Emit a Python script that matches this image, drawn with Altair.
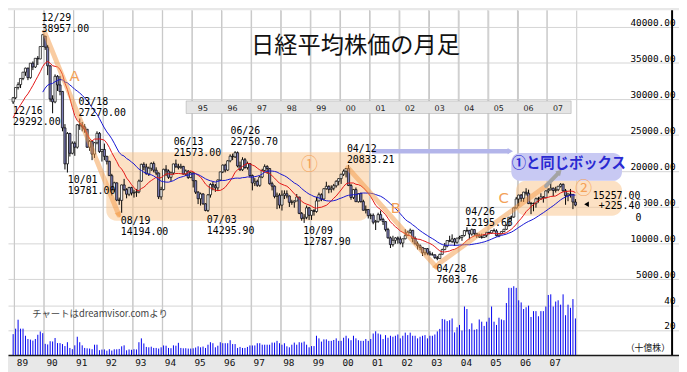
import json
import altair as alt
import pandas as pd

# ---------------------------------------------------------------- data
# Monthly candles of the Nikkei 225, Dec 1988 (t = -1) .. Dec 2007 (t = 227);
# t = months since Jan 1989.
OPEN = [
    29579,
    30159, 31581, 31985, 32838, 33713, 34266, 32948, 34954, 34431, 35636, 35549, 37269,  # 1989
    38712, 37189, 34592, 29980, 29585, 33131, 31940, 31036, 25978, 20984, 25194, 22455,  # 1990
    23849, 23293, 26409, 26292, 26111, 25790, 23291, 24121, 22336, 23917, 25222, 22688,  # 1991
    22984, 22024, 21339, 19346, 17391, 18348, 15952, 15910, 18061, 17400, 16768, 17684,  # 1992
    16925, 17024, 17098, 18591, 20919, 20552, 19590, 20380, 21027, 20106, 19703, 16408,  # 1993
    17417, 20229, 19998, 19112, 19725, 20974, 20644, 20462, 20629, 19564, 19990, 19077,  # 1994
    19723, 18650, 17054, 16140, 16807, 15437, 14517, 16678, 18117, 17913, 17655, 18745,  # 1995
    19868, 20813, 20125, 21407, 22041, 21956, 22531, 20693, 20167, 21556, 20467, 21020,  # 1996
    19361, 18330, 18557, 18003, 19151, 20069, 20605, 20331, 18229, 17888, 16459, 16636,  # 1997
    15259, 16628, 16832, 16527, 15641, 15671, 15831, 16379, 14108, 13406, 13565, 14884,  # 1998
    13842, 14499, 14368, 15837, 16702, 16112, 17530, 17862, 17437, 17605, 17943, 18558,  # 1999
    18934, 19540, 19960, 20337, 17974, 16332, 17412, 15728, 16861, 15747, 14540, 14649,  # 2000
    13786, 13844, 12884, 12999, 13934, 13262, 12969, 11861, 10714, 9775, 10366, 10697,   # 2001
    10543, 9998, 10588, 11025, 11493, 11764, 10622, 9878, 9619, 9383, 8640, 9216,        # 2002
    8579, 8340, 8363, 7973, 7831, 8425, 9083, 9563, 10344, 10219, 10560, 10101,          # 2003
    10677, 10784, 11042, 11715, 11762, 11236, 11859, 11326, 11082, 10824, 10771, 11069,  # 2004
    11489, 11388, 11740, 11669, 11009, 11277, 11584, 11900, 12414, 13574, 13607, 14872,  # 2005
    16111, 16650, 16205, 17060, 16906, 15467, 15505, 15457, 16141, 16128, 16399, 16274,  # 2006
    17226, 17383, 17604, 17288, 17400, 17876, 18138, 17249, 16569, 16786, 16737, 15680,  # 2007
]
HIGH = [
    30264,
    31600, 32310, 32838, 33713, 34338, 34340, 34954, 35200, 35636, 35950, 37269, 38957,
    38750, 37500, 34700, 30500, 33400, 33300, 33200, 31100, 26500, 25400, 25300, 24100,
    24100, 26500, 27270, 26800, 26500, 25800, 24300, 24200, 24000, 25500, 25400, 23000,
    23800, 22100, 21400, 19600, 18500, 18400, 16300, 18100, 18900, 17600, 17800, 17800,
    17400, 17500, 18800, 21000, 21200, 21000, 20600, 21200, 21300, 20500, 19800, 17800,
    20300, 20800, 20200, 19900, 21000, 21573, 21000, 21000, 20700, 20200, 20100, 19900,
    19800, 18700, 17200, 17000, 16900, 15500, 16800, 18300, 18500, 18200, 18800, 19900,
    20900, 21000, 21500, 22300, 22400, 22751, 22700, 21300, 21900, 21800, 21300, 21100,
    19500, 19000, 18800, 19300, 20300, 20910, 20800, 20400, 18500, 18000, 17000, 16900,
    17300, 17300, 17300, 16600, 16000, 15900, 16800, 16400, 14300, 14000, 15200, 15000,
    14600, 14700, 16400, 17000, 16900, 17600, 18500, 18000, 18000, 18200, 18700, 19000,
    19600, 20200, 20400, 20833, 18200, 17500, 17700, 16900, 17000, 16000, 15200, 14700,
    14100, 14100, 13200, 14200, 14500, 13500, 13000, 12100, 10900, 11000, 10800, 10900,
    10900, 10600, 11900, 11700, 12000, 11800, 10900, 10200, 9800, 9400, 9300, 9300,
    8900, 8700, 8400, 8200, 8500, 9200, 10000, 10400, 11000, 11200, 10700, 10700,
    11000, 11100, 11800, 12196, 11800, 12000, 11900, 11400, 11300, 11300, 11200, 11500,
    11500, 11800, 12000, 11900, 11300, 11600, 11950, 12600, 13600, 13800, 14900, 16400,
    16700, 16800, 17100, 17600, 17400, 15700, 15600, 16300, 16400, 16900, 16500, 17300,
    17600, 18300, 17700, 17800, 17900, 18300, 18262, 17500, 16900, 17500, 16800, 16100,
]
LOW = [
    29292,
    29960, 31300, 31500, 32600, 33200, 32600, 32800, 34000, 34300, 34700, 35500, 37200,
    36800, 33300, 29600, 28002, 29400, 31100, 30500, 25500, 20200, 19781, 22000, 22300,
    22100, 23100, 25700, 25500, 25300, 23200, 22800, 21500, 21800, 23700, 22500, 21300,
    21500, 20900, 19300, 16600, 17100, 15800, 15300, 14194, 17200, 16200, 16500, 16600,
    16300, 16400, 16900, 18500, 20100, 19500, 19300, 20000, 19800, 19400, 16100, 16000,
    17300, 19300, 18900, 18600, 19500, 20400, 20200, 20300, 19500, 19300, 18900, 19000,
    17700, 16800, 15400, 15200, 15300, 14400, 14296, 16300, 17300, 17100, 17200, 18600,
    19700, 19800, 20000, 21200, 21500, 21800, 20500, 20000, 20000, 20300, 20200, 19100,
    17300, 17900, 17800, 17800, 19000, 19900, 19600, 18100, 17300, 16200, 14700, 14800,
    14500, 16100, 16200, 15000, 15300, 14900, 15800, 14000, 13100, 12788, 13300, 13200,
    13200, 13800, 14200, 15800, 15800, 15900, 17400, 16900, 17000, 17300, 17700, 18000,
    18200, 19300, 19100, 17900, 16000, 16100, 15700, 15600, 15600, 14500, 14100, 13400,
    13300, 12600, 11800, 12800, 13100, 12500, 11600, 10600, 9300, 9500, 9900, 9900,
    9800, 9400, 10500, 11000, 11300, 10100, 9800, 9100, 9000, 8200, 8300, 8300,
    8300, 8300, 7800, 7604, 7800, 8400, 9000, 9400, 10100, 10000, 9600, 9900,
    10500, 10300, 10900, 11500, 10500, 11000, 11000, 10700, 10700, 10600, 10700, 10800,
    11200, 11300, 11600, 10900, 10800, 11200, 11500, 11800, 12300, 13000, 13500, 14800,
    15100, 15700, 15700, 16600, 15400, 14000, 14400, 14900, 15600, 16000, 15600, 16200,
    16900, 17300, 16500, 17000, 17200, 17700, 17100, 15300, 15800, 16300, 14700, 15100,
]
CLOSE = [
    30159,
    31581, 31985, 32838, 33713, 34266, 32948, 34954, 34431, 35636, 35549, 37269, 38916,
    37189, 34592, 29980, 29585, 33131, 31940, 31036, 25978, 20984, 25194, 22455, 23849,
    23293, 26409, 26292, 26111, 25790, 23291, 24121, 22336, 23917, 25222, 22688, 22984,
    22024, 21339, 19346, 17391, 18348, 15952, 15910, 18061, 17400, 16768, 17684, 16925,
    17024, 17098, 18591, 20919, 20552, 19590, 20380, 21027, 20106, 19703, 16408, 17417,
    20229, 19998, 19112, 19725, 20974, 20644, 20462, 20629, 19564, 19990, 19077, 19723,
    18650, 17054, 16140, 16807, 15437, 14517, 16678, 18117, 17913, 17655, 18745, 19868,
    20813, 20125, 21407, 22041, 21956, 22531, 20693, 20167, 21556, 20467, 21020, 19361,
    18330, 18557, 18003, 19151, 20069, 20605, 20331, 18229, 17888, 16459, 16636, 15259,
    16628, 16832, 16527, 15641, 15671, 15831, 16379, 14108, 13406, 13565, 14884, 13842,
    14499, 14368, 15837, 16702, 16112, 17530, 17862, 17437, 17605, 17943, 18558, 18934,
    19540, 19960, 20337, 17974, 16332, 17412, 15728, 16861, 15747, 14540, 14649, 13786,
    13844, 12884, 12999, 13934, 13262, 12969, 11861, 10714, 9775, 10366, 10697, 10543,
    9998, 10588, 11025, 11493, 11764, 10622, 9878, 9619, 9383, 8640, 9216, 8579,
    8340, 8363, 7973, 7831, 8425, 9083, 9563, 10344, 10219, 10560, 10101, 10677,
    10784, 11042, 11715, 11762, 11236, 11859, 11326, 11082, 10824, 10771, 11069, 11489,
    11388, 11740, 11669, 11009, 11277, 11584, 11900, 12414, 13574, 13607, 14872, 16111,
    16650, 16205, 17060, 16906, 15467, 15505, 15457, 16141, 16128, 16399, 16274, 17226,
    17383, 17604, 17288, 17400, 17876, 18138, 17249, 16569, 16786, 16737, 15680, 15257,
]
# monthly turnover, billions of shares (十億株)
VOLUME = [
    16.8,
    21.2, 28.4, 21.2, 21.2, 15.5, 12.9, 12.4, 11.6, 12.9, 16.3, 18.9, 17.6,
    9.0, 8.5, 11.1, 10.9, 13.7, 9.6, 9.6, 8.8, 7.2, 10.3, 5.7, 4.7,
    7.8, 14.7, 10.3, 7.8, 5.7, 5.4, 5.2, 4.7, 8.3, 8.3, 3.9, 4.4,
    4.5, 3.5, 4.7, 3.6, 4.6, 4.6, 4.9, 7.0, 7.8, 3.8, 4.5, 4.2,
    4.7, 4.5, 10.3, 13.4, 9.3, 6.5, 6.2, 6.7, 5.7, 5.7, 5.2, 6.2,
    7.7, 7.5, 5.7, 5.5, 7.8, 7.5, 9.8, 5.7, 5.4, 5.5, 5.2, 5.2,
    5.4, 6.0, 7.0, 6.2, 6.8, 5.7, 8.3, 10.3, 9.5, 6.2, 7.5, 10.3,
    9.5, 9.5, 9.5, 11.9, 8.8, 8.8, 5.7, 6.5, 5.7, 5.7, 6.5, 7.7,
    7.7, 7.7, 9.5, 9.5, 8.3, 8.3, 8.3, 8.3, 10.0, 10.0, 11.4, 9.5,
    8.3, 9.5, 7.0, 6.2, 8.3, 10.0, 8.3, 10.3, 10.0, 10.8, 8.3, 6.2,
    7.2, 7.2, 15.5, 13.4, 10.8, 12.6, 12.6, 11.4, 11.4, 12.1, 13.4, 11.4,
    11.4, 13.9, 15.5, 13.4, 11.9, 15.5, 13.4, 11.9, 11.4, 11.4, 12.9, 11.4,
    12.9, 17.3, 19.1, 17.3, 16.5, 12.9, 16.0, 13.9, 15.5, 14.7, 15.5, 16.5,
    13.4, 15.5, 18.0, 16.0, 18.0, 15.5, 15.5, 13.4, 14.7, 15.5, 16.0, 13.4,
    15.5, 15.5, 16.5, 19.0, 21.0, 29.0, 28.6, 27.3, 28.0, 29.4, 18.2, 22.3,
    24.2, 19.7, 39.0, 37.0, 20.8, 25.5, 20.3, 20.8, 28.6, 26.8, 23.4, 26.8,
    30.0, 39.0, 26.8, 24.2, 30.0, 28.6, 28.0, 41.8, 54.0, 54.0, 55.3, 54.0,
    44.0, 42.3, 37.0, 38.4, 39.7, 30.6, 35.3, 35.3, 31.2, 35.3, 35.3, 39.0,
    48.3, 48.8, 39.0, 43.0, 44.0, 40.5, 48.8, 32.0, 40.5, 38.0, 45.0, 29.4,
]
# closes Jan..Nov 1988, only feed the 12- and 24-month moving averages
HIST_CLOSE_1988 = [23622, 24919, 26260, 27435, 27417, 27769, 28112, 27366, 27924, 27986, 29579]

PRICE_TICKS = [5000, 10000, 15000, 20000, 25000, 30000, 35000, 40000]
VOLUME_TICKS = [20, 40]
YEAR_LABELS = ["89", "90", "91", "92", "93", "94", "95", "96", "97", "98",
               "99", "00", "01", "02", "03", "04", "05", "06", "07"]
STRIP_LABELS = ["95", "96", "97", "98", "99", "00", "01", "02", "03", "04", "05", "06", "07"]

TITLE = "日経平均株価の月足"
CREDIT = "チャートはdreamvisor.comより"
VOLUME_UNIT = "（十億株）"
BOX_TEXT = "①と同じボックス"

# annotations, placed in data units (t = month index, p = yen)
LABEL_TEXT = ["12/29\n38957.00", "12/16\n29292.00", "03/18\n27270.00", "10/01\n19781.00",
              "08/19\n14194.00", "06/13\n21573.00", "06/26\n22750.70", "07/03\n14295.90",
              "10/09\n12787.90", "04/12\n20833.21", "04/26\n12195.66", "04/28\n7603.76"]
LABEL_T = [10.5, -1.05, 25.45, 21.16, 42.62, 64.08, 87.11, 77.55, 116.6, 134.33, 182.33, 170.62]
LABEL_P = [40780, 27840, 29180, 18320, 12680, 23550, 25090, 12820, 11280, 22670, 13930, 6020]

LAST_TEXT = ["15257.00\n+225.40"]
LAST_T = [253.35]
LAST_P = [16170]

BOX_T0 = [36.77, 202.9]
BOX_T1 = [143.3, 245.9]
BOX_TOP = [22607, 18624]
BOX_BOT = [13086, 13797]
PURPLE_T = [201.0, 245.9]
PURPLE_P = [18624, 22473]

TREND_SEG = ["A", "A", "B", "B", "C", "C"]
TREND_T = [11.79, 41.84, 134.7, 170.6, 171.8, 215.1]
TREND_P = [39236, 13890, 20462, 6649, 7186, 17914]
LETTERS = ["A", "B", "C"]
LETTER_T = [23.9, 154.2, 197.9]
LETTER_P = [33200, 14830, 16170]
CIRCLED = ["①", "②"]
CIRCLED_T = [119.1, 230.3]
CIRCLED_P = [20757, 17444]

# ---------------------------------------------------------------- scales
X_DOMAIN = [-1.0854, 267.0]
P_DOMAIN = [-5554, 42320]
V_DOMAIN = [0, 277.3]
BORDER_T = 266.2
XS = alt.Scale(domain=X_DOMAIN, nice=False, zero=False)
PS = alt.Scale(domain=P_DOMAIN, nice=False, zero=False)
VS = alt.Scale(domain=V_DOMAIN, nice=False, zero=False)

MONO = "DejaVu Sans Mono"
JP = "Noto Sans CJK JP"
GRID = "#d4d4d4"
VGRID = "#c8c8c8"

GRID_T = [12 * k - 0.5 for k in range(len(YEAR_LABELS) + 1)]
X_AXIS = alt.Axis(values=GRID_T, orient="bottom", title=None, grid=True, gridColor=VGRID,
                  domain=True, domainColor="#1a1a1a", domainWidth=1.5, ticks=False, tickSize=0,
                  labelExpr=json.dumps(YEAR_LABELS + [""]) + "[round((datum.value + 0.5) / 12)]",
                  labelAlign="left", labelBaseline="top", labelPadding=3, labelOffset=2,
                  labelFont=MONO, labelFontSize=9.5, labelColor="#111",
                  labelOverlap=False, labelFlush=False, zindex=0)
P_AXIS = alt.Axis(values=PRICE_TICKS, orient="right", title=None, format=".2f",
                  grid=True, gridColor=GRID, domain=False,
                  ticks=False, tickSize=0, labelAlign="right", labelBaseline="alphabetic",
                  labelOffset=-1.5, labelPadding=-4, labelFont=MONO, labelFontSize=9.5,
                  labelColor="#000", labelOverlap=False, labelFlush=False, zindex=0)
V_AXIS = alt.Axis(values=VOLUME_TICKS, orient="right", title=None, format="d",
                  grid=True, gridColor=GRID, domain=False, ticks=False, tickSize=0,
                  labelAlign="right", labelBaseline="alphabetic", labelOffset=-1.5,
                  labelPadding=-4, labelFont=MONO, labelFontSize=9.5, labelColor="#000",
                  labelOverlap=False, labelFlush=False, zindex=0)


def ex(field="t"):
    return alt.X(field, type="quantitative", scale=XS, axis=X_AXIS)


def ep(field, axis=None):
    return alt.Y(field, type="quantitative", scale=PS, axis=axis)


def ev(field, axis=None):
    return alt.Y(field, type="quantitative", scale=VS, axis=axis)


# ---------------------------------------------------------------- frames
n = len(CLOSE)
candles = pd.DataFrame({"t": list(range(-1, n - 1)), "open": OPEN, "high": HIGH,
                        "low": LOW, "close": CLOSE, "volume": VOLUME})
candles["base"] = 0
ma_src = pd.DataFrame({"t": list(range(-1 - len(HIST_CLOSE_1988), n - 1)),
                       "close": HIST_CLOSE_1988 + CLOSE})

box_df = pd.DataFrame({"t0": BOX_T0, "t1": BOX_T1, "top": BOX_TOP, "bot": BOX_BOT})
purple_df = pd.DataFrame({"t0": [PURPLE_T[0]], "t1": [PURPLE_T[1]],
                          "bot": [PURPLE_P[0]], "top": [PURPLE_P[1]]})
strip_df = pd.DataFrame({"t0": [69.16], "t1": [225.26], "top": [29714], "bot": [27971]})
strip_lab = pd.DataFrame({"t": [12 * (6 + i) - 0.5 for i in range(len(STRIP_LABELS))],
                          "p": 28333, "label": STRIP_LABELS})
trend_df = pd.DataFrame({"seg": TREND_SEG, "ord": [0, 1] * 3, "t": TREND_T, "p": TREND_P})
gray_df = pd.DataFrame({"ord": [0, 1], "t": [215.1, 220.0], "p": [17914, 19657]})
parrow_df = pd.DataFrame({"ord": [0, 1], "t": [144.5, 200.0], "p": [22741, 22741]})
heads_df = pd.DataFrame({"t": [41.84, 170.6], "p": [13890, 6649], "angle": [157.6, 137.9]})
ghead_df = pd.DataFrame({"t": [220.6], "p": [19880], "angle": [44.3]})
phead_df = pd.DataFrame({"t": [200.6], "p": [22741], "angle": [90]})
cover_df = pd.DataFrame({"t0": [245.94], "t1": [254.9], "top": [16036], "bot": [14427]})
label_df = pd.DataFrame({"t": LABEL_T, "p": LABEL_P, "text": LABEL_TEXT})
last_df = pd.DataFrame({"t": LAST_T, "p": LAST_P, "text": LAST_TEXT})
zero_df = pd.DataFrame({"t": [251.4], "p": [13090], "text": ["0"]})
marker_df = pd.DataFrame({"t": [231.5], "p": [15365]})
letter_df = pd.DataFrame({"t": LETTER_T, "p": LETTER_P, "text": LETTERS})
circ_df = pd.DataFrame({"t": CIRCLED_T, "p": CIRCLED_P, "text": CIRCLED})
boxtext_df = pd.DataFrame({"t": [224.3], "p": [20931], "text": [BOX_TEXT]})
title_df = pd.DataFrame({"t": [137.84], "p": [36326], "text": [TITLE]})
credit_df = pd.DataFrame({"t": [6.72], "v": [30.3], "text": [CREDIT]})
unit_df = pd.DataFrame({"t": [265.4], "v": [3.1], "text": [VOLUME_UNIT]})

# ---------------------------------------------------------------- layers
# yearly grid: one full-height rule at the start of every January candle
vgrid = alt.Chart(candles).transform_filter("datum.t % 12 == 0").transform_calculate(
    g="datum.t - 0.5", top=str(V_DOMAIN[1])
).mark_rule(color=VGRID, strokeWidth=1).encode(x=ex("g"), y=ev("top"), y2="base")
boxes = alt.Chart(box_df).mark_rect(cornerRadius=10, color="#f9c48a", opacity=0.5).encode(
    x=ex("t0"), x2="t1", y=ep("top"), y2="bot")
purple = alt.Chart(purple_df).mark_rect(cornerRadius=9, color="#c8c9f3").encode(
    x=ex("t0"), x2="t1", y=ep("top"), y2="bot")
strip = alt.Chart(strip_df).mark_rect(color="#e5e5e5", stroke="#b0b0b0",
                                      strokeWidth=0.6).encode(
    x=ex("t0"), x2="t1", y=ep("top"), y2="bot")
strip_text = alt.Chart(strip_lab).mark_text(align="left", baseline="alphabetic", dx=6,
                                            font="DejaVu Sans", fontSize=8, color="#222").encode(
    x=ex("t"), y=ep("p"), text="label:N")

volume = alt.Chart(candles).mark_rule(color="#0000f0", strokeWidth=1).encode(
    x=ex("t"), y=ev("volume", V_AXIS), y2="base")

wicks = alt.Chart(candles).mark_rule(color="black", strokeWidth=1).encode(
    x=ex("t"), y=ep("low", P_AXIS), y2="high")
bodies = alt.Chart(candles).mark_bar(width=2.2, stroke="black", strokeWidth=0.7).encode(
    x=ex("t"), y=ep("open"), y2="close",
    fill=alt.condition("datum.close >= datum.open", alt.value("white"), alt.value("#7f7fb8")))

ma12 = alt.Chart(ma_src).transform_window(
    ma="mean(close)", n="count()", frame=[-11, 0], sort=[alt.SortField("t")]
).transform_filter("datum.n == 12").mark_line(color="#e41414", strokeWidth=1).encode(
    x=ex("t"), y=ep("ma"))
ma24 = alt.Chart(ma_src).transform_window(
    ma="mean(close)", n="count()", frame=[-23, 0], sort=[alt.SortField("t")]
).transform_filter("datum.n == 24").mark_line(color="#1414d2", strokeWidth=1).encode(
    x=ex("t"), y=ep("ma"))

trend = alt.Chart(trend_df).mark_line(color="#f39a45", opacity=0.5, strokeWidth=5,
                                      strokeCap="round").encode(
    x=ex("t"), y=ep("p"), detail="seg:N", order="ord:Q")
heads = alt.Chart(heads_df).mark_point(shape="triangle-up", filled=True, size=45,
                                       color="#f39a45", opacity=0.55).encode(
    x=ex("t"), y=ep("p"), angle=alt.Angle("angle:Q", scale=None))
gray = alt.Chart(gray_df).mark_line(color="#a4a4a4", strokeWidth=4, strokeCap="round").encode(
    x=ex("t"), y=ep("p"), order="ord:Q")
ghead = alt.Chart(ghead_df).mark_point(shape="triangle-up", filled=True, size=45,
                                       color="#a4a4a4", opacity=1).encode(
    x=ex("t"), y=ep("p"), angle=alt.Angle("angle:Q", scale=None))
parrow = alt.Chart(parrow_df).mark_line(color="#b3b5ea", strokeWidth=4.5).encode(
    x=ex("t"), y=ep("p"), order="ord:Q")
phead = alt.Chart(phead_df).mark_point(shape="triangle-up", filled=True, size=40,
                                       color="#b3b5ea", opacity=1).encode(
    x=ex("t"), y=ep("p"), angle=alt.Angle("angle:Q", scale=None))

cover = alt.Chart(cover_df).mark_rect(color="white").encode(
    x=ex("t0"), x2="t1", y=ep("top"), y2="bot")
# right-hand frame line, derived from the last candle row
border = alt.Chart(candles).transform_filter(f"datum.t == {n - 2}").transform_calculate(
    bx=str(BORDER_T), top=str(V_DOMAIN[1])
).mark_rule(color="black", strokeWidth=2).encode(x=ex("bx"), y=ev("top"), y2="base")

labels = alt.Chart(label_df).mark_text(align="left", baseline="alphabetic", font=MONO,
                                       fontSize=10, lineBreak="\n", lineHeight=11,
                                       color="black").encode(
    x=ex("t"), y=ep("p"), text="text:N")
last = alt.Chart(last_df).mark_text(align="right", baseline="alphabetic", font=MONO,
                                    fontSize=10, lineBreak="\n", lineHeight=11,
                                    color="black").encode(
    x=ex("t"), y=ep("p"), text="text:N")
zero = alt.Chart(zero_df).mark_text(align="left", baseline="alphabetic", font=MONO,
                                    fontSize=10, color="black").encode(
    x=ex("t"), y=ep("p"), text="text:N")
marker = alt.Chart(marker_df).mark_point(shape="triangle-left", filled=True, size=30,
                                         color="black", opacity=1).encode(
    x=ex("t"), y=ep("p"))
letters = alt.Chart(letter_df).mark_text(align="center", baseline="middle",
                                         font="DejaVu Sans", fontSize=15,
                                         color="#f3a157").encode(
    x=ex("t"), y=ep("p"), text="text:N")
circled = alt.Chart(circ_df).mark_text(align="center", baseline="middle", font=JP,
                                       fontSize=17, color="#f5a258").encode(
    x=ex("t"), y=ep("p"), text="text:N")
box_text = alt.Chart(boxtext_df).mark_text(align="center", baseline="middle", font=JP,
                                           fontSize=14.5, fontWeight="bold",
                                           color="#2a2ad2").encode(
    x=ex("t"), y=ep("p"), text="text:N")
title = alt.Chart(title_df).mark_text(align="center", baseline="alphabetic", font=JP,
                                      fontSize=23.5, color="#111").encode(
    x=ex("t"), y=ep("p"), text="text:N")
credit = alt.Chart(credit_df).mark_text(align="left", baseline="alphabetic", font=JP,
                                        fontSize=9.5, color="#444").encode(
    x=ex("t"), y=ev("v"), text="text:N")
unit = alt.Chart(unit_df).mark_text(align="right", baseline="alphabetic", font=JP,
                                    fontSize=9, color="#111").encode(
    x=ex("t"), y=ev("v"), text="text:N")

chart = alt.layer(
    vgrid, boxes, purple, strip, strip_text,
    volume, wicks, bodies, ma12, ma24,
    trend, heads, gray, ghead, parrow, phead,
    cover, border, labels, last, zero, marker, letters, circled, box_text, title, credit, unit,
).resolve_scale(y="independent").properties(
    width=679, height=349,
    padding={"left": 0, "top": 0, "right": 0, "bottom": 15},
    autosize=alt.AutoSizeParams(type="none"),
    background="#e8e8e8",
).configure_view(strokeWidth=0, fill="white")

chart.save("out.html", embed_options={"renderer": "svg", "actions": False})
